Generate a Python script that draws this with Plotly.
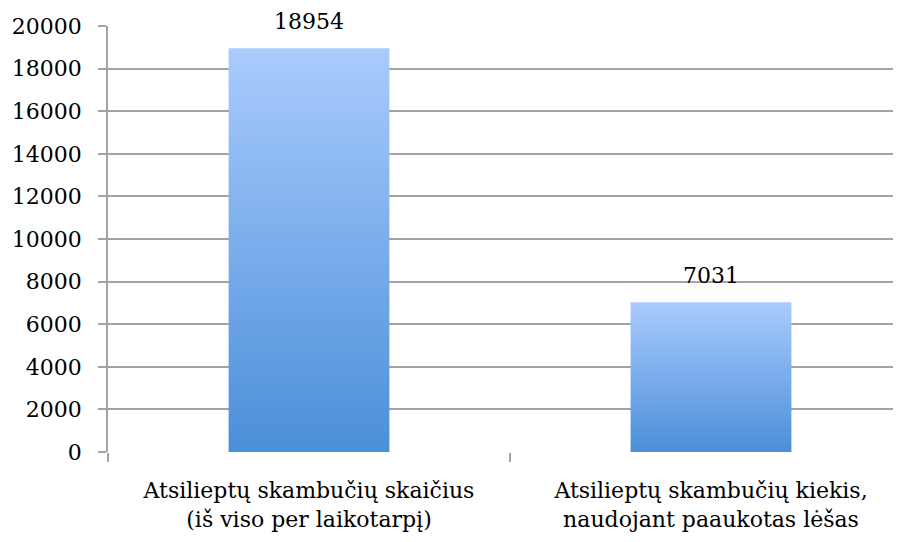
import plotly.graph_objects as go

categories = [
    "Atsilieptų skambučių skaičius<br>(iš viso per laikotarpį)",
    "Atsilieptų skambučių kiekis,<br>naudojant paaukotas lėšas",
]
values = [18954, 7031]
y_ticks = list(range(0, 20001, 2000))

TOP_COLOR = "#aacbfd"
BOTTOM_COLOR = "#4a8fd9"
GRID = "#a3a3a3"
FONT = "DejaVu Serif"
FSIZE = 22
BAR_HALF = 0.2

fig = go.Figure()
for i, v in enumerate(values):
    xs = [i - BAR_HALF, i + BAR_HALF, i + BAR_HALF, i - BAR_HALF, i - BAR_HALF]
    ys = [0, 0, v, v, 0]
    fig.add_trace(go.Scatter(
        x=xs, y=ys, mode="lines", fill="toself",
        line=dict(width=0, color=BOTTOM_COLOR),
        fillgradient=dict(type="vertical",
                          colorscale=[[0, BOTTOM_COLOR], [1, TOP_COLOR]]),
        hoverinfo="skip", showlegend=False,
    ))
    fig.add_annotation(x=i, y=v, text=str(v), showarrow=False,
                       yanchor="bottom", yshift=12,
                       font=dict(family=FONT, size=FSIZE, color="#000000"))

fig.update_layout(
    width=893, height=534,
    margin=dict(l=100, r=0, t=18, b=90),
    paper_bgcolor="white", plot_bgcolor="white",
    font=dict(family=FONT, size=FSIZE, color="#000000"),
    showlegend=False,
)
fig.update_xaxes(
    range=[-0.5, -0.5 + 793 / 402],
    tickvals=list(range(len(categories))), ticktext=categories,
    ticks="", showgrid=False, zeroline=False,
    showline=False, ticklabelstandoff=23,
    minor=dict(tickvals=[-0.5, 0.5], ticks="outside", ticklen=9,
               tickcolor=GRID, tickwidth=1.5, showgrid=False),
    tickfont=dict(family=FONT, size=FSIZE),
)
fig.update_yaxes(
    range=[0, 20000], tickvals=y_ticks, tickformat="d",
    ticks="outside", ticklen=8, tickcolor=GRID, tickwidth=1.5,
    ticklabelstandoff=12,
    showgrid=True, gridcolor=GRID, gridwidth=1.5,
    zeroline=False, showline=True, linecolor=GRID, linewidth=1.5,
    tickfont=dict(family=FONT, size=FSIZE),
)

fig.write_html("out.html")
